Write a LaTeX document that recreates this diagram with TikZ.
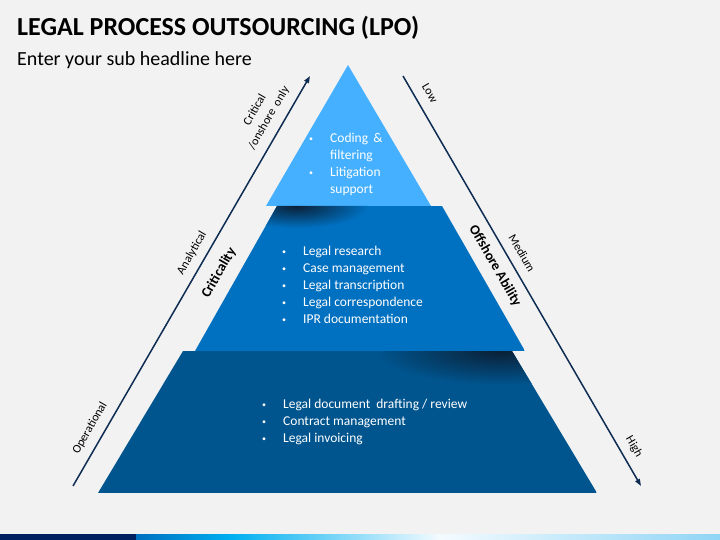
\documentclass[tikz,border=0pt]{standalone}
\usepackage{fontspec}
\setmainfont{Carlito}
\usepackage{tikz}
\usetikzlibrary{arrows.meta, positioning}
\definecolor{bggrey}{HTML}{F2F2F2}
\definecolor{axisnavy}{HTML}{0F2C52}
\definecolor{barnavy}{HTML}{002060}
\definecolor{barcyan}{HTML}{00B0F0}
\definecolor{barlight}{HTML}{F4FBFF}
\definecolor{barend}{HTML}{8FD5F5}
\definecolor{tiertop}{HTML}{45B0FF}
\definecolor{tiermid}{HTML}{0070C0}
\definecolor{tierbot}{HTML}{00558F}
\definecolor{tiershadow}{HTML}{0A2036}
\tikzset{axis/.style={draw=axisnavy, line width=1.5pt, -{Triangle[length=7pt,width=5pt]}},
    level/.style={font=\fontsize{12}{16}\selectfont, inner sep=0pt},
    axislabel/.style={font=\bfseries\fontsize{14}{16}\selectfont, inner sep=0pt},
    tiertext/.style={text=white, align=left, inner sep=0pt, anchor=north west, font=\fontsize{13.5}{17}\selectfont}}
\newcommand{\bul}{\makebox[21pt][l]{\raisebox{1pt}{\fontsize{8}{8}\selectfont\textbullet}}}
\newcommand{\nob}{\hspace*{21pt}}

\begin{document}
\begin{tikzpicture}[x=1pt, y=-1pt]
    \fill[bggrey] (0,0) rectangle (720,540);
    \useasboundingbox (0,0) rectangle (720,540);
    \node[anchor=base west, inner sep=0pt, font=\bfseries\fontsize{26}{30}\selectfont] (title) at (17,36) {LEGAL PROCESS OUTSOURCING (LPO)};
    \node[anchor=base west, inner sep=0pt, font=\fontsize{20}{24}\selectfont] (subtitle) at (17,66) {Enter your sub headline here};
    \coordinate (apex) at (348,65);
    \fill[tiertop] (apex)--(431,206)--(266,206)--cycle;
    \begin{scope}
        \clip (277,206)--(442,206)--(525,351)--(195,351)--cycle;
        \fill[tiermid] (195,206) rectangle (525,351);
        \shade[inner color=tiershadow, outer color=tiermid] (296,206) ellipse [x radius=72pt, y radius=22pt];
    \end{scope}
    \begin{scope}
        \clip (183,351)--(512,351)--(597,493)--(98,493)--cycle;
        \fill[tierbot] (98,351) rectangle (597,493);
        \shade[inner color=tiershadow, outer color=tierbot] (500,351) ellipse [x radius=125pt, y radius=34pt];
    \end{scope}
    \node[tiertext] (toptext) at (309,133) {\bul Coding \,\&\\ \nob filtering\\ \bul Litigation\\ \nob support};
    \node[tiertext] (midtext) at (282,246) {\bul Legal research\\ \bul Case management\\ \bul Legal transcription\\ \bul Legal correspondence\\ \bul IPR documentation};
    \node[tiertext] (bottext) at (262,399) {\bul Legal document \ drafting / review\\ \bul Contract management\\ \bul Legal invoicing};
    \coordinate (critlow) at (73,486);
    \coordinate (crithigh) at (310,76);
    \coordinate (offlow) at (403,76);
    \coordinate (offhigh) at (641,486);
    \draw[axis] (critlow)--(crithigh);
    \draw[axis] (offlow)--(offhigh);
    \node[level, rotate=60] (operational) at (90,428) {Operational};
    \node[level, rotate=60] (analytical) at (192,253) {Analytical};
    \node[level, rotate=60, align=center] (critical) at (262,114) {Critical\\/onshore \ only};
    \node[axislabel, rotate=60] (criticality) at (219,273) {Criticality};
    \node[level, rotate=-60] (low) at (430,93) {Low};
    \node[level, rotate=-60] (medium) at (522,253) {Medium};
    \node[level, rotate=-60] (high) at (634,447) {High};
    \node[axislabel, rotate=-60] (offshore) at (495,266) {Offshore Ability};
    \fill[barnavy] (0,534) rectangle (136,540);
    \shade[left color=tiermid, right color=barcyan] (136,534) rectangle (232,540);
    \shade[left color=barcyan, right color=barlight] (232,534) rectangle (440,540);
    \shade[left color=barlight, right color=barend] (440,534) rectangle (720,540);
\end{tikzpicture}
\end{document}
